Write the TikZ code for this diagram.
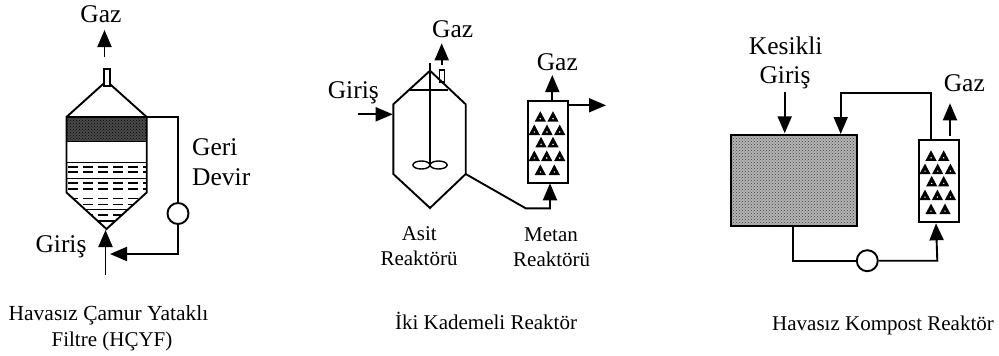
\documentclass[tikz,border=0pt]{standalone}
\usepackage{fontspec}
\setmainfont{Liberation Serif}
\usetikzlibrary{arrows.meta,patterns,shapes.geometric}
\definecolor{darkband}{HTML}{4A4A4A}
\definecolor{midband}{HTML}{B4B4B4}
\tikzset{
  big/.style={anchor=base,inner sep=0pt,font=\fontsize{25.5}{25.5}\selectfont},
  small/.style={anchor=base,inner sep=0pt,font=\fontsize{21}{21}\selectfont},
  line/.style={line width=1.9pt,line join=miter},
  flow/.style={line width=1.9pt,-{Triangle[length=17pt,width=14pt]}},
  pump/.style={circle,draw,line width=1.9pt,fill=white,inner sep=0pt,minimum size=21pt},
  packed/.style={rectangle,draw,line width=1.9pt,fill=white,inner sep=0pt,minimum width=40pt,minimum height=82pt},
  dashrow/.style={line width=1.6pt,dash pattern=on 10pt off 5pt},
  tri/.style={fill=black}
}
\newcommand{\packing}[1]{%
  \begin{scope}[shift={(#1)}]
    \foreach \px/\py in {12.3/16,25/16,6.3/29.3,19/29.3,31.7/29.3,13/41.6,25/41.6,6.3/55.3,18.7/55.3,31.7/55.3,12.3/69.3,26.3/69.3}{
      \fill[tri] (\px-5.6,\py+5) -- (\px,\py-5.5) -- (\px+5.6,\py+5) -- cycle;
      \fill[white] (\px,\py+2) circle (0.8pt);
    }
  \end{scope}}
\begin{document}
\begin{tikzpicture}[x=1pt,y=-1pt]
\useasboundingbox (0,0) rectangle (999,356);
% ---------- left reactor
\coordinate (lTL) at (66.5,117);
\coordinate (lTR) at (146.7,117);
\coordinate (lML) at (66.5,192.5);
\coordinate (lMR) at (146.7,192.5);
\coordinate (lA) at (106.5,81);
\coordinate (lB) at (106.5,229);
\fill[preaction={fill=darkband},pattern=crosshatch dots,pattern color=black] (66.5,117) rectangle (146.7,141.5);
\begin{scope}
  \clip (lTL) -- (lTR) -- (lMR) -- (lB) -- (lML) -- cycle;
  \foreach \yy in {166.7,171.7,183,189,198.3,204.3,215}{
    \draw[dashrow] (68,\yy) -- (150,\yy);
  }
  \draw[line width=1pt] (60,162) -- (150,162);
  \draw[line width=1.4pt] (60,178.7) -- (150,178.7);
  \draw[line width=1.4pt] (60,209.5) -- (150,209.5);
  \draw[line width=1.4pt] (60,221) -- (150,221);
\end{scope}
\draw[line] (66.5,141.5) -- (146.7,141.5);
\draw[line] (lA) -- (lTL) -- (lML) -- (lB) -- (lMR) -- (lTR) -- cycle;
\draw[line] (lTL) -- (lTR);
\node[draw,line width=1.4pt,fill=white,inner sep=0pt,minimum width=6pt,minimum height=17pt] (lnoz) at (106.8,77.5) {};
\node[pump] (lpump) at (178,213.5) {};
\coordinate (lg0) at (104.5,57);
\coordinate (lg1) at (104.5,30);
\draw[flow] (lg0) -- (lg1);
\coordinate (lr1) at (178,117);
\coordinate (lr2) at (178,254);
\coordinate (lr3) at (110,254);
\draw[line] (lTR) -- (lr1) -- (lpump);
\draw[flow] (lpump) -- (lr2) -- (lr3);
\coordinate (lin0) at (105.5,275);
\coordinate (lin1) at (105.5,230);
\draw[flow] (lin0) -- (lin1);
\node[big] (t1) at (101,23) {Gaz};
\node[big,anchor=base west] (t2) at (192,155) {Geri};
\node[big,anchor=base west] (t3) at (192,185.7) {Devir};
\node[big] (t4) at (61,252.7) {Giriş};
\node[small,font=\fontsize{21.5}{21.5}\selectfont] (t5) at (108.5,320.7) {Havasız Çamur Yataklı};
\node[small] (t6) at (112,346.7) {Filtre (HÇYF)};
% ---------- middle reactor
\coordinate (mA) at (430,70.7);
\coordinate (mL1) at (393.3,104.3);
\coordinate (mL2) at (393.3,174);
\coordinate (mB) at (430,208);
\coordinate (mR2) at (465.7,174);
\coordinate (mR1) at (465.7,104.3);
\node[draw,line width=1.4pt,inner sep=0pt,minimum width=5pt,minimum height=12pt] (mnoz) at (441.8,76) {};
\draw[line] (mA) -- (mL1) -- (mL2) -- (mB) -- (mR2) -- (mR1) -- cycle;
\coordinate (mh1) at (409.3,90);
\coordinate (mh2) at (448,90);
\draw[line] (mh1) -- (mh2);
\coordinate (ms0) at (430,63.3);
\coordinate (ms1) at (430,164);
\draw[line] (ms0) -- (ms1);
\node[draw,ellipse,line width=1.4pt,inner sep=0pt,minimum width=17pt,minimum height=8pt] (mi1) at (421.4,165) {};
\node[draw,ellipse,line width=1.4pt,inner sep=0pt,minimum width=17pt,minimum height=8pt] (mi2) at (438.6,165) {};
\coordinate (mg0) at (441.7,65);
\coordinate (mg1) at (441.7,43.3);
\draw[flow] (mg0) -- (mg1);
\coordinate (mf0) at (357.7,114.3);
\coordinate (mf1) at (392.7,114.3);
\draw[flow] (mf0) -- (mf1);
\node[packed] (mcol) at (548,141.7) {};
\packing{528,100.7}
\coordinate (mc0) at (552.3,100);
\coordinate (mc1) at (552.3,75);
\draw[flow] (mc0) -- (mc1);
\coordinate (me0) at (568.3,105.3);
\coordinate (me1) at (606,105.3);
\draw[flow] (me0) -- (me1);
\coordinate (mp1) at (525.7,208.3);
\coordinate (mp2) at (550,208.3);
\coordinate (mp3) at (550,183.3);
\draw[flow] (mR2) -- (mp1) -- (mp2) -- (mp3);
\node[big] (t7) at (452.7,37.3) {Gaz};
\node[big] (t8) at (557.3,70.7) {Gaz};
\node[big] (t9) at (353.3,98.3) {Giriş};
\node[small] (t10) at (419.3,240) {Asit};
\node[small] (t11) at (419,265) {Reaktörü};
\node[small] (t12) at (551,241.7) {Metan};
\node[small] (t13) at (551.7,266.7) {Reaktörü};
\node[small] (t14) at (486,329.3) {İki Kademeli Reaktör};
% ---------- right reactor
\node[rectangle,inner sep=0pt,minimum width=126.3pt,minimum height=90.7pt,preaction={fill=midband},pattern=crosshatch dots,pattern color=black!75] (rbox) at (794.2,180.3) {};
\node[draw,line width=1.9pt,rectangle,inner sep=0pt,minimum width=126.3pt,minimum height=90.7pt] (rframe) at (794.2,180.3) {};
\node[packed] (rcol) at (938.7,180.8) {};
\packing{918.7,139.8}
\coordinate (rk0) at (784.7,92.3);
\coordinate (rk1) at (784.7,133.3);
\draw[flow] (rk0) -- (rk1);
\coordinate (rr0) at (930.7,139.3);
\coordinate (rr1) at (930.7,93.3);
\coordinate (rr2) at (840.7,93.3);
\coordinate (rr3) at (840.7,134);
\draw[flow] (rr0) -- (rr1) -- (rr2) -- (rr3);
\coordinate (rg0) at (950,136);
\coordinate (rg1) at (950,103.3);
\draw[flow] (rg0) -- (rg1);
\node[pump] (rpump) at (867.3,260.7) {};
\coordinate (rb0) at (793.3,225.7);
\coordinate (rb1) at (793.3,260.7);
\coordinate (rb2) at (937.3,260.7);
\coordinate (rb3) at (936,223.3);
\draw[line] (rb0) -- (rb1) -- (rpump);
\draw[flow] (rpump) -- (rb2) -- (rb3);
\node[big] (t15) at (785.7,54) {Kesikli};
\node[big] (t16) at (785,83.3) {Giriş};
\node[big] (t17) at (964.3,91.7) {Gaz};
\node[small] (t18) at (883,330) {Havasız Kompost Reaktör};
\end{tikzpicture}
\end{document}
